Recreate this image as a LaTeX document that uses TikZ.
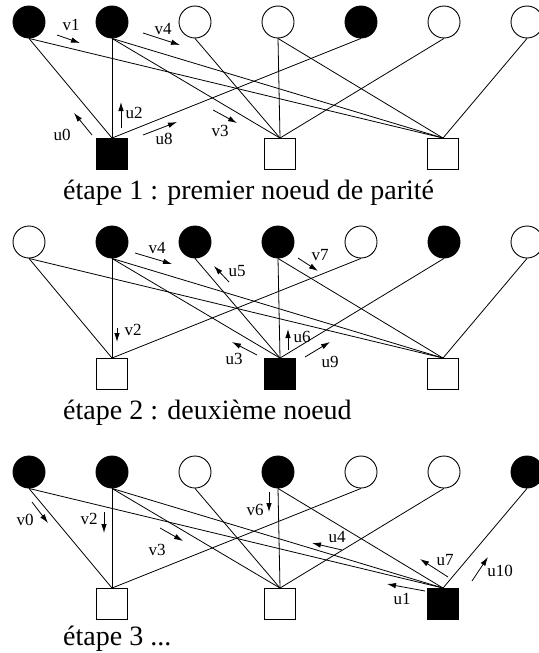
\documentclass[tikz,border=0pt]{standalone}
\usepackage{fontspec}
\setmainfont{Liberation Serif}
\usetikzlibrary{arrows.meta}

\begin{document}
\begin{tikzpicture}[x=1pt,y=-1pt,
        var/.style={circle,draw,line width=0.9pt,minimum size=32pt,inner sep=0pt},
        chk/.style={rectangle,draw,line width=0.9pt,minimum size=31pt,inner sep=0pt},
        msg/.style={line width=0.8pt,-{Latex[length=9pt,width=5.5pt]}},
        lbl/.style={inner sep=0pt,font=\fontsize{17}{17}\selectfont},
        etape/.style={anchor=base west,inner sep=0pt,font=\fontsize{28}{28}\selectfont}]
    \useasboundingbox (0,0) rectangle (538,653);
    % three steps: variable nodes on top, parity nodes below
    \foreach \s/\y/\cols/\pcols in {
        1/22/{black,black,white,white,black,white,white}/{black/112,white/280,white/443},
        2/242/{white,black,black,black,white,black,white}/{white/112,black/280,white/443},
        3/472/{black,black,white,black,white,white,black}/{white/112,white/280,black/443}}{
        \foreach \c [count=\i] in \cols
            \node[var,fill=\c] (v\s-\i) at ({29+83*(\i-1)},\y) {};
        \foreach \c/\x [count=\j] in \pcols
            \node[chk,fill=\c] (p\s-\j) at (\x,\y+132) {};
        \foreach \a/\b in {1/1,2/1,5/1,2/2,3/2,4/2,6/2,1/3,2/3,4/3,7/3}
            \draw[line width=0.8pt] (v\s-\a.south) -- (p\s-\b.north);
    }
    % messages
    \foreach \s/\n/\xa/\ya/\xb/\yb/\xl/\yl in {
        1/v1/57/35/80/43/71/25, 1/v4/143/33/180/45/163/29,
        1/u0/92/135/74/113/62/135, 1/u2/121/128/121/102/134/113,
        1/u8/143/135/177/122/164/139, 1/v3/213/110/237/123/220/131,
        2/v4/135/253/172/264/157/248, 2/v2/117/328/117/342/133/330,
        2/u5/229/282/214/266/237/271, 2/u3/257/355/232/342/234/359,
        2/v7/298/258/318/271/320/255, 2/u6/288/350/288/329/302/337,
        2/u9/305/357/330/342/330/362,
        3/v0/32/502/48/523/25/520, 3/v2/104/512/104/533/89/519,
        3/v3/160/528/183/541/157/550, 3/v6/269/492/269/512/255/510,
        3/u4/342/550/312/543/337/537, 3/u7/448/577/420/559/445/560,
        3/u1/425/591/387/584/402/599, 3/u10/472/581/488/557/500/571}{
        \draw[msg] (\xa,\ya) -- (\xb,\yb);
        \node[lbl] (m\s-\n) at (\xl,\yl) {\n};
    }
    \node[etape] (e1) at (63,199) {étape 1 : premier noeud de parité};
    \node[etape] (e2) at (63,419) {étape 2 : deuxième noeud};
    \node[etape] (e3) at (63,645) {étape 3 ...};
\end{tikzpicture}
\end{document}
